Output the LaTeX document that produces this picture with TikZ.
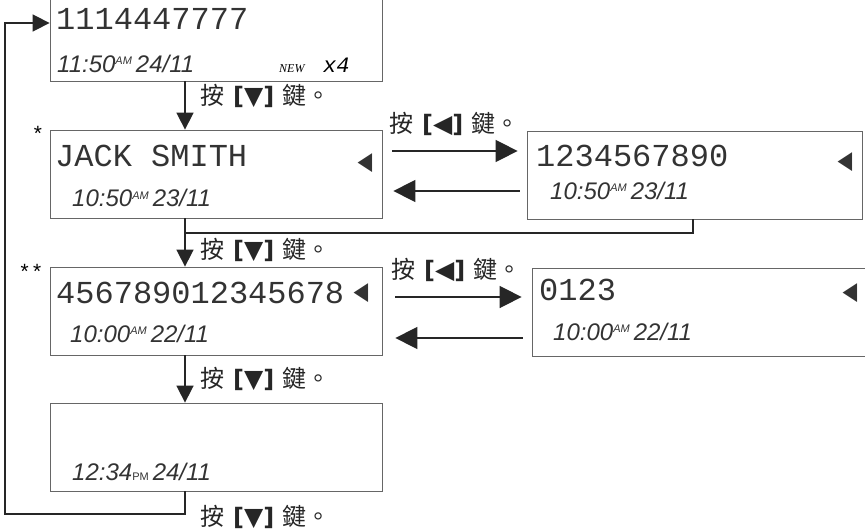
\documentclass[tikz,border=0pt]{standalone}
\usepackage{fontspec}
\setmainfont{Liberation Sans}
\setmonofont{Liberation Mono}
\newfontfamily\cjkfont{Noto Sans CJK TC}
\newfontfamily\symfont{DejaVu Sans}
\newfontfamily\tagfont{Liberation Serif}
\usetikzlibrary{arrows.meta}
\usetikzlibrary{positioning}

\newcommand{\keylabel}[1]{{\cjkfont 按}\hspace{9pt}{\symfont\bfseries[}{\symfont\fontsize{25}{25}\selectfont\smash{#1}}{\symfont\bfseries]}\hspace{8pt}{\cjkfont 鍵。}}
\newcommand{\ampm}[1]{\raisebox{8pt}{\fontsize{11}{11}\selectfont #1}}

\begin{document}
\begin{tikzpicture}[x=1pt, y=-1pt,
    screen/.style={draw=black!60, line width=0.8pt, minimum width=332pt, minimum height=88pt, inner sep=0pt},
    big/.style={font=\ttfamily\fontsize{32}{32}\selectfont, inner sep=0pt, text=black!80, anchor=base west},
    stamp/.style={font=\itshape\fontsize{24}{24}\selectfont, inner sep=0pt, text=black!80, anchor=base west},
    cursor/.style={font=\symfont\fontsize{19}{19}\selectfont, inner sep=0pt, text=black!80, yscale=1.3},
    starmark/.style={font=\ttfamily\fontsize{21}{21}\selectfont, inner sep=0pt, anchor=north},
    hint/.style={font=\fontsize{24}{24}\selectfont, inner sep=0pt, text=black!85, anchor=west},
    flow/.style={-{Triangle[length=17pt,width=17pt]}, line width=1.6pt, black!85},
    side/.style={-{Triangle[length=22pt,width=22pt]}, line width=1.6pt, black!85}]
    \useasboundingbox (0,0) rectangle (865,532);
    \clip (0,0) rectangle (865,532);

    % screens
    \node[screen, minimum height=92pt] (newcall) at (216,35) {};
    \node[screen] (jack) at (216,174) {};
    \node[screen, minimum width=335pt] (jacknum) at (694.5,175) {};
    \node[screen] (long) at (216,311) {};
    \node[screen, minimum width=333pt] (longnum) at (698.5,312) {};
    \node[screen] (blank) at (216,447) {};

    % screen contents
    \node[big] (n1) at (56,30) {1114447777};
    \node[stamp] (t1) at (57,73) {11:50\ampm{AM}\,24/11};
    \node[font=\tagfont\itshape\fontsize{12}{12}\selectfont, inner sep=0pt, anchor=base west] (newtag) at (279,73) {NEW};
    \node[font=\ttfamily\itshape\fontsize{22}{22}\selectfont, inner sep=0pt, anchor=base west] (count) at (323,73) {x4};

    \node[starmark] (star1) at (38,126) {*};
    \node[big] (n2) at (55,167) {JACK SMITH};
    \node[cursor] (c2) at (365,163) {◀};
    \node[stamp] (t2) at (72,207) {10:50\ampm{AM}\,23/11};

    \node[big] (n2r) at (536,167) {1234567890};
    \node[cursor] (c2r) at (845,162) {◀};
    \node[stamp] (t2r) at (550,200) {10:50\ampm{AM}\,23/11};

    \node[starmark] (star2) at (31,264) {**};
    \node[big] (n3) at (56,303) {456789012345678};
    \node[cursor] (c3) at (361,293) {◀};
    \node[stamp] (t3) at (70,342) {10:00\ampm{AM}\,22/11};

    \node[big] (n3r) at (539,300) {0123};
    \node[cursor] (c3r) at (850,293) {◀};
    \node[stamp] (t3r) at (553,340) {10:00\ampm{AM}\,22/11};

    \node[stamp] (t4) at (72,480) {12:34{\upshape\fontsize{11}{11}\selectfont PM}\,24/11};

    % key hints
    \node[hint] (k1) at (200,96) {\keylabel{▼}};
    \node[hint] (k2) at (389,124) {\keylabel{◀}};
    \node[hint] (k3) at (200,250) {\keylabel{▼}};
    \node[hint] (k4) at (391,270) {\keylabel{◀}};
    \node[hint] (k5) at (200,379) {\keylabel{▼}};
    \node[hint] (k6) at (200,517) {\keylabel{▼}};

    \coordinate (spine) at (185,0);
    \coordinate (drop) at (693,0);
    \coordinate (merge) at (185,233);
    \coordinate (loopbot) at (5,514);
    \coordinate (looptop) at (5,23);

    % down the list
    \draw[flow] (newcall.south -| spine) -- (jack.north -| spine);
    \draw[flow] (jack.south -| spine) -- (long.north -| spine);
    \draw[line width=1.6pt, black!85] (jacknum.south -| drop) |- (merge);
    \draw[flow] (long.south -| spine) -- (blank.north -| spine);
    \draw[flow] (blank.south -| spine) |- (loopbot) -- (looptop) -- (newcall.west |- looptop);

    % left key: show number and back
    \draw[side, shorten <=10pt, shorten >=9pt] ([yshift=23pt]jack.east) -- ([yshift=23pt]jack.east -| jacknum.west);
    \draw[side, shorten <=7pt, shorten >=11pt] ([yshift=-16pt]jacknum.west) -- ([yshift=-16pt]jacknum.west -| jack.east);
    \draw[side, shorten <=13pt, shorten >=10pt] ([yshift=14pt]long.east) -- ([yshift=14pt]long.east -| longnum.west);
    \draw[side, shorten <=9pt, shorten >=13pt] ([yshift=-26pt]longnum.west) -- ([yshift=-26pt]longnum.west -| long.east);
\end{tikzpicture}
\end{document}
